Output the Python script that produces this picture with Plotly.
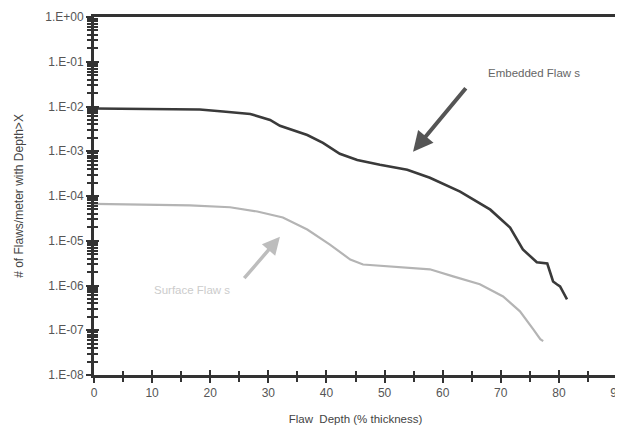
import plotly.graph_objects as go

# Embedded flaws (dark curve)
emb_depth = [0, 18.2, 22.2, 26.9, 30.3, 32.0, 36.7, 39.4, 42.3, 45.3, 49.2, 53.9,
             57.8, 63.0, 68.2, 71.6, 73.8, 76.2, 78.0, 79.0, 79.7, 80.2, 81.4]
emb_count = [9.0e-3, 8.6e-3, 7.7e-3, 6.8e-3, 5.0e-3, 3.7e-3, 2.3e-3, 1.54e-3, 8.8e-4,
             6.4e-4, 5.0e-4, 3.85e-4, 2.55e-4, 1.25e-4, 4.95e-5, 1.97e-5, 6.4e-6,
             3.3e-6, 3.1e-6, 1.23e-6, 1.05e-6, 9.5e-7, 4.9e-7]

# Surface flaws (light curve)
sur_depth = [0, 16.5, 23.4, 28.1, 32.5, 36.7, 40.6, 44.1, 46.3, 50.9, 57.8, 61.8,
             66.4, 70.4, 73.3, 75.6, 76.8, 77.3]
sur_count = [6.7e-5, 6.2e-5, 5.6e-5, 4.5e-5, 3.3e-5, 1.78e-5, 8.2e-6, 3.8e-6, 2.95e-6,
             2.7e-6, 2.3e-6, 1.6e-6, 1.07e-6, 5.7e-7, 2.65e-7, 1.05e-7, 6.3e-8, 5.7e-8]

y_tickvals = [1e0, 1e-1, 1e-2, 1e-3, 1e-4, 1e-5, 1e-6, 1e-7, 1e-8]
y_ticktext = ["1.E+00", "1.E-01", "1.E-02", "1.E-03", "1.E-04", "1.E-05",
              "1.E-06", "1.E-07", "1.E-08"]
x_tickvals = [0, 10, 20, 30, 40, 50, 60, 70, 80, 90]

FONT = "Liberation Sans, Arial, sans-serif"
AX = "#333333"

fig = go.Figure()
fig.add_trace(go.Scatter(x=emb_depth, y=emb_count, mode="lines",
                         line=dict(color="#3a3a3a", width=2.6), showlegend=False))
fig.add_trace(go.Scatter(x=sur_depth, y=sur_count, mode="lines",
                         line=dict(color="#b4b4b4", width=2.2), showlegend=False))
# invisible trace for overlay axes
fig.add_trace(go.Scatter(x=[None], y=[None], xaxis="x2", yaxis="y2", showlegend=False))

# the page body has an 8px margin, so the figure is sized to fit the window exactly
fig.update_layout(
    width=615, height=419,
    margin=dict(l=86, r=6, t=9, b=52),
    paper_bgcolor="white", plot_bgcolor="white",
    font=dict(family=FONT, size=11, color="#444444"),
    xaxis=dict(range=[0, 90], tickvals=x_tickvals, ticks="outside", ticklen=5,
               tickwidth=2, tickcolor=AX, showgrid=False, zeroline=False,
               showline=True, linecolor=AX, linewidth=3, mirror=True, automargin=False,
               ticklabeloverflow="allow",
               minor=dict(dtick=5, ticks="outside", ticklen=4, tickwidth=2, tickcolor=AX),
               tickfont=dict(size=12, color="#555555"),
               title=dict(text="Flaw  Depth (% thickness)", font=dict(size=11.5, color="#444444"),
                          standoff=16)),
    yaxis=dict(type="log", range=[-8, 0], tickvals=y_tickvals, ticktext=y_ticktext,
               ticks="outside", ticklen=5, tickwidth=2, tickcolor=AX,
               showgrid=False, zeroline=False, showline=True, linecolor=AX,
               linewidth=3, mirror=True, automargin=False,
               minor=dict(dtick="D1", ticks="outside", ticklen=4, tickwidth=1.5, tickcolor=AX),
               tickfont=dict(size=12, color="#555555"),
               title=dict(text="# of Flaws/meter with Depth>X", font=dict(size=12, color="#444444"),
                          standoff=20)),
    xaxis2=dict(overlaying="x", range=[0, 90], tickvals=x_tickvals, automargin=False,
                ticks="inside", ticklen=5, tickwidth=2, tickcolor=AX, showticklabels=False,
                showgrid=False, zeroline=False, showline=False, side="bottom",
                minor=dict(dtick=5, ticks="inside", ticklen=4, tickwidth=2, tickcolor=AX)),
    yaxis2=dict(overlaying="y", type="log", range=[-8, 0], tickvals=y_tickvals, automargin=False,
                ticks="inside", ticklen=5, tickwidth=2, tickcolor=AX, showticklabels=False,
                showgrid=False, zeroline=False, showline=False, side="left",
                minor=dict(dtick="D1", ticks="inside", ticklen=4, tickwidth=1.5, tickcolor=AX)),
    annotations=[
        dict(x=54.9, y=-3.01, xref="x", yref="y", ax=54, ay=-65, showarrow=True,
             arrowhead=2, arrowsize=1.0, arrowwidth=4, arrowcolor="#555555", text=""),
        dict(x=75.7, y=-1.25, xref="x", yref="y", text="Embedded Flaw s", showarrow=False,
             font=dict(size=11.5, color="#666666")),
        dict(x=32.0, y=-4.91, xref="x", yref="y", ax=-37, ay=43, showarrow=True,
             arrowhead=2, arrowsize=1.0, arrowwidth=3.5, arrowcolor="#bdbdbd", text=""),
        dict(x=16.9, y=-6.09, xref="x", yref="y", text="Surface Flaw s", showarrow=False,
             font=dict(size=11.5, color="#cccccc")),
    ],
)

fig.write_html("out.html")
